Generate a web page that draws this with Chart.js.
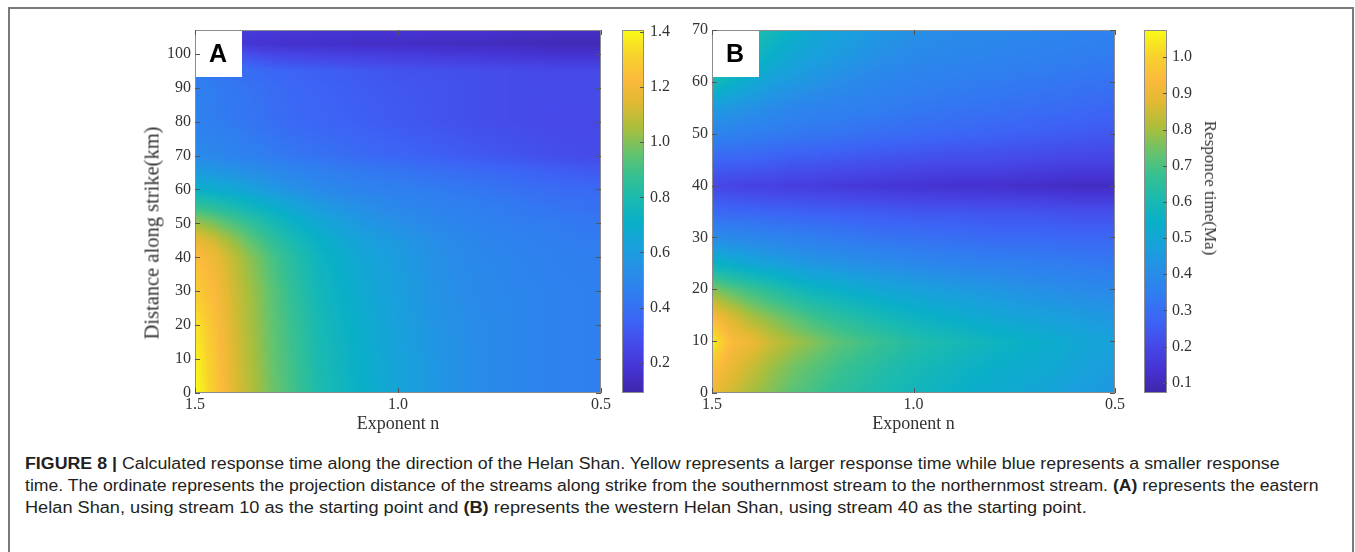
<!DOCTYPE html>
<html lang="en">
<head>
<meta charset="UTF-8">
<title>Calculated response time along the Helan Shan</title>
<script src="https://cdn.jsdelivr.net/npm/chart.js@4.4.1/dist/chart.umd.min.js"></script>
<style>
  body { margin: 0; width: 1355px; height: 552px; background: #fff; position: relative; overflow: hidden; }
  canvas { position: absolute; top: 0; }
  .frame { position: absolute; left: 8px; top: 7px; width: 1342px; height: 600px; border: 2px solid #7a7a7a; border-bottom: none; }
  .vtitle { position: absolute; white-space: nowrap; color: #333; font-family: "Liberation Serif", "Times New Roman", serif; }
  .cbtitle { left: 1210px; top: 188px; font-size: 17px; transform: translate(-50%, -50%) rotate(90deg); }
  .ytitle { left: 152px; top: 233px; font-size: 20.5px; transform: translate(-50%, -50%) rotate(-90deg); }
  .caption { position: absolute; left: 25px; top: 453px; color: #231f20; font: 16px "Liberation Sans", Arial, sans-serif; }
  .caption div { height: 22px; line-height: 22px; white-space: nowrap; }
  .caption span { display: inline-block; transform-origin: left center; }
</style>
</head>
<body>
<div class="frame"></div>
<canvas id="panelA" width="620" height="438" style="left:0px"></canvas>
<canvas id="barA" width="84" height="438" style="left:600px"></canvas>
<canvas id="panelB" width="475" height="438" style="left:660px"></canvas>
<canvas id="barB" width="97" height="438" style="left:1120px"></canvas>
<div class="vtitle ytitle">Distance along strike(km)</div>
<div class="vtitle cbtitle">Responce time(Ma)</div>
<div class="caption">
  <div><span data-w="1255"><b>FIGURE 8 |</b> Calculated response time along the direction of the Helan Shan. Yellow represents a larger response time while blue represents a smaller response</span></div>
  <div><span data-w="1293">time. The ordinate represents the projection distance of the streams along strike from the southernmost stream to the northernmost stream. <b>(A)</b> represents the eastern</span></div>
  <div><span data-w="1062">Helan Shan, using stream 10 as the starting point and <b>(B)</b> represents the western Helan Shan, using stream 40 as the starting point.</span></div>
</div>
<script>
// grid columns (exponent n) shared by both panels
const exponentN = [1.5, 1.45, 1.4, 1.35, 1.3, 1.25, 1.2, 1.1, 1.0, 0.9, 0.8, 0.7, 0.6, 0.5];

// panel A: eastern Helan Shan
const distanceA = [0, 10, 20, 30, 40, 45, 50, 55, 60, 65, 70, 80, 90, 95, 100, 103, 107];
const responseA = [
  [1.42, 1.28, 1.14, 1.05, 0.96, 0.89, 0.81, 0.72, 0.64, 0.57, 0.52, 0.49, 0.47, 0.46],
  [1.40, 1.27, 1.13, 1.04, 0.95, 0.88, 0.80, 0.71, 0.63, 0.57, 0.52, 0.49, 0.47, 0.46],
  [1.37, 1.25, 1.12, 1.03, 0.94, 0.87, 0.79, 0.70, 0.62, 0.56, 0.52, 0.49, 0.47, 0.46],
  [1.30, 1.22, 1.11, 1.02, 0.93, 0.85, 0.77, 0.68, 0.61, 0.55, 0.51, 0.49, 0.47, 0.46],
  [1.25, 1.18, 1.08, 0.99, 0.90, 0.82, 0.75, 0.66, 0.60, 0.54, 0.50, 0.48, 0.46, 0.45],
  [1.18, 1.11, 1.02, 0.93, 0.85, 0.78, 0.72, 0.63, 0.58, 0.53, 0.49, 0.47, 0.45, 0.44],
  [1.05, 0.99, 0.92, 0.85, 0.78, 0.72, 0.67, 0.59, 0.54, 0.50, 0.47, 0.45, 0.44, 0.42],
  [0.88, 0.84, 0.79, 0.74, 0.69, 0.64, 0.60, 0.54, 0.50, 0.47, 0.45, 0.43, 0.41, 0.40],
  [0.72, 0.69, 0.66, 0.62, 0.58, 0.55, 0.52, 0.48, 0.46, 0.44, 0.42, 0.40, 0.38, 0.37],
  [0.60, 0.58, 0.56, 0.54, 0.51, 0.49, 0.47, 0.44, 0.42, 0.40, 0.38, 0.36, 0.34, 0.32],
  [0.52, 0.50, 0.48, 0.46, 0.44, 0.42, 0.41, 0.38, 0.36, 0.34, 0.32, 0.30, 0.28, 0.27],
  [0.47, 0.45, 0.43, 0.41, 0.39, 0.37, 0.36, 0.34, 0.32, 0.30, 0.28, 0.27, 0.26, 0.26],
  [0.46, 0.44, 0.42, 0.40, 0.38, 0.36, 0.35, 0.33, 0.31, 0.30, 0.28, 0.27, 0.27, 0.27],
  [0.44, 0.42, 0.40, 0.38, 0.36, 0.35, 0.34, 0.32, 0.30, 0.29, 0.28, 0.27, 0.26, 0.26],
  [0.36, 0.33, 0.30, 0.27, 0.25, 0.24, 0.23, 0.22, 0.21, 0.20, 0.19, 0.18, 0.17, 0.17],
  [0.28, 0.24, 0.20, 0.18, 0.17, 0.16, 0.16, 0.15, 0.15, 0.14, 0.14, 0.13, 0.12, 0.12],
  [0.30, 0.26, 0.22, 0.20, 0.20, 0.19, 0.19, 0.18, 0.18, 0.17, 0.17, 0.16, 0.15, 0.15]
];

// panel B: western Helan Shan
const distanceB = [0, 5, 10, 15, 20, 25, 30, 35, 40, 45, 50, 55, 60, 65, 70];
const responseB = [
  [0.90, 0.85, 0.80, 0.76, 0.72, 0.69, 0.66, 0.62, 0.58, 0.55, 0.52, 0.50, 0.47, 0.44],
  [0.96, 0.89, 0.84, 0.79, 0.75, 0.72, 0.69, 0.64, 0.60, 0.57, 0.54, 0.52, 0.49, 0.46],
  [1.06, 0.94, 0.90, 0.84, 0.80, 0.77, 0.73, 0.68, 0.63, 0.60, 0.57, 0.54, 0.51, 0.48],
  [0.93, 0.86, 0.80, 0.76, 0.72, 0.68, 0.65, 0.60, 0.56, 0.53, 0.50, 0.48, 0.46, 0.44],
  [0.77, 0.72, 0.68, 0.64, 0.60, 0.57, 0.55, 0.51, 0.48, 0.46, 0.44, 0.42, 0.40, 0.39],
  [0.56, 0.53, 0.50, 0.48, 0.46, 0.44, 0.43, 0.41, 0.39, 0.37, 0.36, 0.35, 0.34, 0.33],
  [0.40, 0.39, 0.38, 0.37, 0.36, 0.35, 0.34, 0.32, 0.31, 0.30, 0.29, 0.29, 0.28, 0.28],
  [0.29, 0.28, 0.28, 0.27, 0.27, 0.26, 0.26, 0.25, 0.24, 0.24, 0.23, 0.23, 0.22, 0.22],
  [0.20, 0.19, 0.18, 0.18, 0.17, 0.17, 0.16, 0.15, 0.14, 0.13, 0.13, 0.12, 0.11, 0.11],
  [0.28, 0.27, 0.27, 0.26, 0.25, 0.25, 0.24, 0.23, 0.22, 0.21, 0.21, 0.20, 0.19, 0.19],
  [0.37, 0.36, 0.35, 0.34, 0.33, 0.32, 0.32, 0.30, 0.29, 0.28, 0.27, 0.26, 0.25, 0.24],
  [0.46, 0.44, 0.42, 0.40, 0.38, 0.37, 0.36, 0.35, 0.33, 0.32, 0.31, 0.30, 0.29, 0.28],
  [0.60, 0.55, 0.51, 0.47, 0.45, 0.43, 0.41, 0.38, 0.36, 0.35, 0.34, 0.33, 0.32, 0.31],
  [0.68, 0.63, 0.58, 0.54, 0.50, 0.48, 0.46, 0.42, 0.39, 0.38, 0.37, 0.36, 0.35, 0.34],
  [0.72, 0.68, 0.63, 0.59, 0.55, 0.51, 0.49, 0.45, 0.42, 0.40, 0.39, 0.38, 0.37, 0.36]
];

// axis ticks and colour ranges
const xTicks = [1.5, 1.0, 0.5];
const yTicksA = [0, 10, 20, 30, 40, 50, 60, 70, 80, 90, 100];
const yTicksB = [0, 10, 20, 30, 40, 50, 60, 70];
const cbTicksA = [0.2, 0.4, 0.6, 0.8, 1.0, 1.2, 1.4];
const cbTicksB = [0.1, 0.2, 0.3, 0.4, 0.5, 0.6, 0.7, 0.8, 0.9, 1.0];
const cbRangeA = [0.09, 1.407];
const cbRangeB = [0.072, 1.075];

// parula-like colormap
const parulaStops = [
  [0.00, 62, 38, 168], [0.06, 69, 50, 208], [0.13, 70, 72, 232], [0.20, 60, 100, 245],
  [0.27, 48, 125, 240], [0.33, 40, 140, 232], [0.40, 25, 160, 220], [0.47, 10, 175, 200],
  [0.53, 25, 185, 178], [0.60, 55, 192, 145], [0.66, 100, 195, 110], [0.73, 170, 190, 60],
  [0.80, 225, 185, 50], [0.86, 250, 185, 60], [0.93, 248, 210, 45], [1.00, 249, 251, 21]
];
function parula(t) {
  t = Math.min(1, Math.max(0, t));
  for (let k = 1; k < parulaStops.length; k++) {
    if (t <= parulaStops[k][0]) {
      const a = parulaStops[k - 1], b = parulaStops[k];
      const f = (t - a[0]) / (b[0] - a[0]);
      const c = [1, 2, 3].map(i => Math.round(a[i] + (b[i] - a[i]) * f));
      return 'rgb(' + c.join(',') + ')';
    }
  }
  return 'rgb(249,251,21)';
}

Chart.defaults.font.family = '"Liberation Serif", "Times New Roman", serif';
Chart.defaults.color = '#333';

const tickFont = { size: 16 };
const fixedTicks = arr => scale => { scale.ticks = arr.map(v => ({ value: v })); };

function makePanel(id, cfg) {
  const points = [];
  cfg.ys.forEach((yv, j) => cfg.xs.forEach((xv, i) => points.push({ x: xv, y: yv, v: cfg.grid[j][i] })));

  // smooth shaded cells between grid nodes
  const heatmap = {
    id: 'heatmap',
    beforeDatasetsDraw(chart) {
      const { ctx, chartArea: area, scales: { x, y } } = chart;
      const lo = cfg.range[0], span = cfg.range[1] - cfg.range[0];
      ctx.save();
      ctx.beginPath();
      ctx.rect(area.left, area.top, area.width, area.height);
      ctx.clip();
      for (let j = 0; j < cfg.ys.length - 1; j++) {
        for (let i = 0; i < cfg.xs.length - 1; i++) {
          const x0 = x.getPixelForValue(cfg.xs[i]), x1 = x.getPixelForValue(cfg.xs[i + 1]);
          const y0 = y.getPixelForValue(cfg.ys[j]), y1 = y.getPixelForValue(cfg.ys[j + 1]);
          const nx = Math.max(1, Math.ceil(Math.abs(x1 - x0) / 2));
          const ny = Math.max(1, Math.ceil(Math.abs(y1 - y0) / 2));
          const g = cfg.grid;
          for (let a = 0; a < nx; a++) {
            for (let b = 0; b < ny; b++) {
              const u = (a + 0.5) / nx, w = (b + 0.5) / ny;
              const v = g[j][i] * (1 - u) * (1 - w) + g[j][i + 1] * u * (1 - w)
                      + g[j + 1][i] * (1 - u) * w + g[j + 1][i + 1] * u * w;
              ctx.fillStyle = parula((v - lo) / span);
              const pa = x0 + (x1 - x0) * a / nx, pb = x0 + (x1 - x0) * (a + 1) / nx;
              const qa = y0 + (y1 - y0) * b / ny, qb = y0 + (y1 - y0) * (b + 1) / ny;
              const l = Math.floor(Math.min(pa, pb)), r = Math.ceil(Math.max(pa, pb));
              const t = Math.floor(Math.min(qa, qb)), bt = Math.ceil(Math.max(qa, qb));
              ctx.fillRect(l, t, r - l, bt - t);
            }
          }
        }
      }
      ctx.restore();
    }
  };

  const frame = {
    id: 'panelFrame',
    afterDraw(chart) {
      const { ctx, chartArea: area, scales: { x, y } } = chart;
      ctx.save();
      // panel letter box
      ctx.fillStyle = '#fff';
      ctx.fillRect(area.left, area.top, 47, 47);
      ctx.fillStyle = '#000';
      ctx.font = 'bold 25px "Liberation Sans", Arial, sans-serif';
      ctx.textAlign = 'center';
      ctx.textBaseline = 'middle';
      ctx.fillText(cfg.letter, area.left + 23, area.top + 25);
      // axes box
      ctx.strokeStyle = '#8c8c8c';
      ctx.lineWidth = 1;
      ctx.strokeRect(area.left + 0.5, area.top + 0.5, area.width - 1, area.height - 1);
      // inward tick marks
      ctx.strokeStyle = '#555';
      ctx.beginPath();
      x.ticks.forEach(t => {
        const p = Math.round(x.getPixelForValue(t.value)) + 0.5;
        ctx.moveTo(p, area.bottom); ctx.lineTo(p, area.bottom - 5);
        ctx.moveTo(p, area.top); ctx.lineTo(p, area.top + 5);
      });
      y.ticks.forEach(t => {
        const p = Math.round(y.getPixelForValue(t.value)) + 0.5;
        ctx.moveTo(area.left, p); ctx.lineTo(area.left + 5, p);
        ctx.moveTo(area.right, p); ctx.lineTo(area.right - 5, p);
      });
      ctx.stroke();
      ctx.restore();
    }
  };

  return new Chart(document.getElementById(id), {
    type: 'scatter',
    data: { datasets: [{ data: points, pointRadius: 0, pointHoverRadius: 0 }] },
    options: {
      responsive: false,
      animation: false,
      events: [],
      layout: { padding: cfg.padding },
      plugins: { legend: { display: false }, tooltip: { enabled: false } },
      scales: {
        x: {
          type: 'linear', min: 0.5, max: 1.5, reverse: true,
          afterBuildTicks: fixedTicks(xTicks),
          afterFit: s => { s.height = 45; },
          grid: { display: false, drawTicks: false },
          border: { display: false },
          ticks: { padding: 2, autoSkip: false, maxRotation: 0, font: tickFont, callback: v => v.toFixed(1) },
          title: { display: true, text: 'Exponent n', font: { size: 18 }, padding: { top: 0, bottom: 3 } }
        },
        y: {
          type: 'linear', min: 0, max: cfg.yMax,
          afterBuildTicks: fixedTicks(cfg.yTicks),
          afterFit: s => { s.width = cfg.yWidth; },
          grid: { display: false, drawTicks: false },
          border: { display: false },
          ticks: { padding: 4, autoSkip: false, font: tickFont }
        }
      }
    },
    plugins: [heatmap, frame]
  });
}

function makeColorbar(id, range, ticks, padLeft, width, labelPad) {
  const bar = {
    id: 'colorbar',
    beforeDatasetsDraw(chart) {
      const { ctx, chartArea: area, scales: { y } } = chart;
      const g = ctx.createLinearGradient(0, y.getPixelForValue(range[0]), 0, y.getPixelForValue(range[1]));
      parulaStops.forEach(s => g.addColorStop(s[0], parula(s[0])));
      ctx.save();
      ctx.fillStyle = g;
      ctx.fillRect(area.left, area.top, area.width, area.height);
      ctx.strokeStyle = '#8c8c8c';
      ctx.lineWidth = 1;
      ctx.strokeRect(area.left + 0.5, area.top + 0.5, area.width - 1, area.height - 1);
      ctx.strokeStyle = '#555';
      ctx.beginPath();
      y.ticks.forEach(t => {
        const p = Math.round(y.getPixelForValue(t.value)) + 0.5;
        ctx.moveTo(area.right, p); ctx.lineTo(area.right - 4, p);
      });
      ctx.stroke();
      ctx.restore();
    }
  };
  return new Chart(document.getElementById(id), {
    type: 'scatter',
    data: { datasets: [{ data: [], pointRadius: 0 }] },
    options: {
      responsive: false,
      animation: false,
      events: [],
      layout: { padding: { left: padLeft, top: 30, right: 0, bottom: 45 } },
      plugins: { legend: { display: false }, tooltip: { enabled: false } },
      scales: {
        x: { type: 'linear', display: false, min: 0, max: 1 },
        y: {
          type: 'linear', position: 'right', min: range[0], max: range[1],
          afterBuildTicks: fixedTicks(ticks),
          afterFit: s => { s.width = width; },
          grid: { display: false, drawTicks: false },
          border: { display: false },
          ticks: { padding: labelPad, autoSkip: false, font: tickFont, callback: v => v.toFixed(1) }
        }
      }
    },
    plugins: [bar]
  });
}

makePanel('panelA', {
  xs: exponentN, ys: distanceA, grid: responseA, range: cbRangeA,
  yMax: 107, yTicks: yTicksA, yWidth: 60, letter: 'A',
  padding: { left: 135, top: 30, right: 19, bottom: 0 }
});
makeColorbar('barA', cbRangeA, cbTicksA, 22, 40, 6);

makePanel('panelB', {
  xs: exponentN, ys: distanceB, grid: responseB, range: cbRangeB,
  yMax: 70, yTicks: yTicksB, yWidth: 40, letter: 'B',
  padding: { left: 12, top: 30, right: 20, bottom: 0 }
});
makeColorbar('barB', cbRangeB, cbTicksB, 24, 50, 5);

// stretch caption lines to the measured widths (offsetWidth ignores transforms)
function fitCaption() {
  document.querySelectorAll('.caption span').forEach(el => {
    const w = el.offsetWidth;
    if (w > 0) el.style.transform = 'scaleX(' + (+el.dataset.w / w) + ')';
  });
}
fitCaption();
if (document.fonts) document.fonts.ready.then(fitCaption);
</script>
</body>
</html>
